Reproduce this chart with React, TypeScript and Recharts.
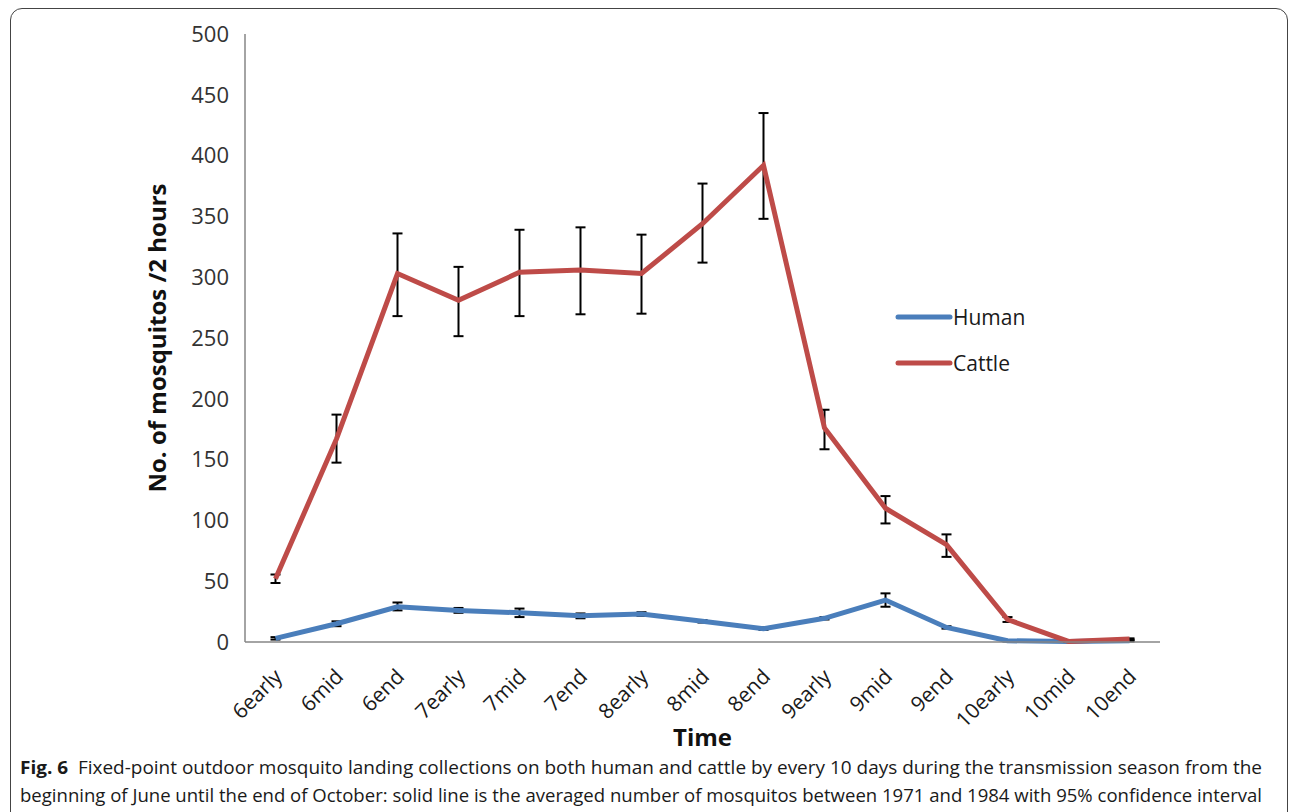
import React from 'react';
import { LineChart, Line, XAxis, YAxis, ErrorBar, Legend } from 'recharts';

const categories = ['6early', '6mid', '6end', '7early', '7mid', '7end', '8early', '8mid', '8end', '9early', '9mid', '9end', '10early', '10mid', '10end'];
const humanMean = [3, 15, 29, 26, 24, 21.5, 23, 17, 11, 19.5, 34.5, 12, 1, 0.5, 1];
const humanLow = [2, 13, 26, 24, 20.5, 19.5, 21.5, 16, 10, 18.5, 29, 11, 0.5, 0.3, 0.5];
const humanHigh = [4, 17, 32.5, 28, 27.5, 23.5, 24.5, 18, 12, 20.5, 40, 13, 1.5, 0.8, 1.5];
const cattleMean = [52, 167, 303, 281, 304, 306, 303, 344, 392, 176, 110, 80, 18.5, 0.5, 2.5];
const cattleLow = [48.5, 147.5, 268, 251.5, 268, 269.5, 270, 312, 348, 158.5, 97.5, 70, 16.5, 0.3, 2];
const cattleHigh = [55.5, 187, 336, 308.5, 339, 341, 335, 377, 435, 191, 120, 88.5, 20.5, 0.8, 3];
const yTicks = [0, 50, 100, 150, 200, 250, 300, 350, 400, 450, 500];
const seriesNames = ['Human', 'Cattle'];
const captionBold = 'Fig. 6';
const captionLine1 = '  Fixed-point outdoor mosquito landing collections on both human and cattle by every 10 days during the transmission season from the';
const captionLine2 = 'beginning of June until the end of October: solid line is the averaged number of mosquitos between 1971 and 1984 with 95% confidence interval';

const BLUE = '#4A7EBB';
const RED = '#BE4B48';
const FONT = '"Open Sans", sans-serif';

const data = categories.map((c, i) => ({
  cat: c,
  human: humanMean[i],
  humanErr: [humanMean[i] - humanLow[i], humanHigh[i] - humanMean[i]],
  cattle: cattleMean[i],
  cattleErr: [cattleMean[i] - cattleLow[i], cattleHigh[i] - cattleMean[i]],
}));

const XTick = (props: any) => {
  const { x, y, payload } = props;
  const bx = x + 8;
  const by = y + 28;
  return (
    <text x={bx} y={by} textAnchor="end" transform={`rotate(-45, ${bx}, ${by})`} fontSize={21} fontFamily={FONT} fill="#1a1a1a">
      {payload.value}
    </text>
  );
};

const LegendContent = () => {
  const colors = [BLUE, RED];
  return (
    <div style={{ fontFamily: FONT }}>
      {seriesNames.map((n, i) => (
        <div key={n} style={{ display: 'flex', alignItems: 'center', height: 46 }}>
          <svg width={60} height={10} style={{ display: 'block' }}>
            <line x1={3} y1={5} x2={55} y2={5} stroke={colors[i]} strokeWidth={5} strokeLinecap="round" />
          </svg>
          <span style={{ fontSize: 21, color: '#1a1a1a', marginLeft: -2 }}>{n}</span>
        </div>
      ))}
    </div>
  );
};

export default function App() {
  return (
    <div style={{ position: 'absolute', left: 0, top: 0, width: 1292, height: 812, overflow: 'hidden', background: '#fff' }}>
      <div style={{ position: 'absolute', left: 10, top: 8, width: 1278, height: 840, border: '1.5px solid #444', borderRadius: 12, boxSizing: 'border-box' }} />
      <div style={{ position: 'absolute', left: 0, top: 0 }}>
        <LineChart width={1292} height={812} data={data} margin={{ top: 34, right: 132, left: 145, bottom: 70 }}>
          <XAxis
            dataKey="cat"
            height={100}
            tick={<XTick />}
            tickLine={false}
            interval={0}
            padding={{ left: 30.5, right: 30.5 }}
            axisLine={{ stroke: '#868686', strokeWidth: 1.5 }}
            label={{ value: 'Time', position: 'insideBottom', offset: -4, style: { fontSize: 24, fontWeight: 700, fontFamily: FONT, fill: '#111' } }}
          />
          <YAxis
            width={100}
            domain={[0, 500]}
            ticks={yTicks}
            tickLine={false}
            tickSize={0}
            tickMargin={16}
            axisLine={{ stroke: '#868686', strokeWidth: 1.5 }}
            tick={{ fontSize: 22, fontFamily: FONT, fill: '#333' }}
            label={{ value: 'No. of mosquitos /2 hours', angle: -90, position: 'insideLeft', offset: 12, style: { textAnchor: 'middle', fontSize: 24, fontWeight: 700, fontFamily: FONT, fill: '#111' } }}
          />
          <Legend layout="vertical" align="center" verticalAlign="middle" content={<LegendContent />} wrapperStyle={{ left: 895, top: 294, width: 160 }} />
          <Line type="linear" dataKey="human" name="Human" stroke={BLUE} strokeWidth={5} dot={false} isAnimationActive={false}>
            <ErrorBar dataKey="humanErr" direction="y" width={5} stroke="#000" strokeWidth={2} />
          </Line>
          <Line type="linear" dataKey="cattle" name="Cattle" stroke={RED} strokeWidth={5} dot={false} isAnimationActive={false}>
            <ErrorBar dataKey="cattleErr" direction="y" width={5} stroke="#000" strokeWidth={2} />
          </Line>
        </LineChart>
      </div>
      <svg style={{ position: 'absolute', left: 0, top: 745 }} width={1292} height={67}>
        <text x={20} y={29} fontSize={18} fontFamily={FONT} fill="#1a1a1a" textLength={1242} lengthAdjust="spacingAndGlyphs">
          <tspan fontWeight={700}>{captionBold}</tspan>
          <tspan xmlSpace="preserve">{captionLine1}</tspan>
        </text>
        <text x={20} y={57} fontSize={18} fontFamily={FONT} fill="#1a1a1a" textLength={1242} lengthAdjust="spacingAndGlyphs">
          {captionLine2}
        </text>
      </svg>
    </div>
  );
}
